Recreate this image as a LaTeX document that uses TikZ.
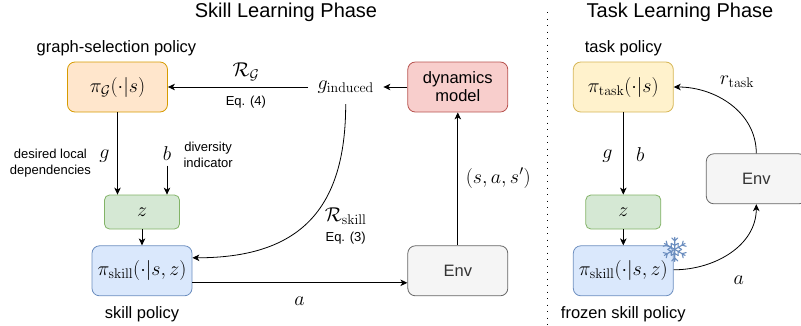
\documentclass[tikz,border=0pt]{standalone}
\usepackage{fix-cm}
\usepackage{amsmath,amssymb,amsfonts}
\usepackage[no-math]{fontspec}
\setmainfont{Liberation Sans}
\usetikzlibrary{arrows.meta,positioning,calc}
\definecolor{orangefill}{HTML}{FFE6CC}
\definecolor{orangeline}{HTML}{D79B00}
\definecolor{yellowfill}{HTML}{FFF2CC}
\definecolor{yellowline}{HTML}{D6B656}
\definecolor{greenfill}{HTML}{D5E8D4}
\definecolor{greenline}{HTML}{82B366}
\definecolor{bluefill}{HTML}{DAE8FC}
\definecolor{blueline}{HTML}{6C8EBF}
\definecolor{redfill}{HTML}{F8CECC}
\definecolor{redline}{HTML}{B85450}
\definecolor{greyfill}{HTML}{F5F5F5}
\definecolor{greyline}{HTML}{666666}
\tikzset{
	phasebox/.style={rectangle, rounded corners=7.5pt, line width=0.8pt, minimum width=100pt,
		minimum height=50pt, align=center, inner sep=0pt, font=\fontsize{20}{24}\selectfont},
	latentbox/.style={phasebox, rounded corners=5pt, minimum width=75pt, minimum height=34pt},
	textbox/.style={phasebox, font=\fontsize{16.5}{19}\selectfont},
	phasetitle/.style={inner sep=0pt, font=\fontsize{20}{24}\selectfont},
	caption/.style={inner sep=0pt, font=\fontsize{16.5}{19}\selectfont},
	note/.style={inner sep=0pt, align=center, font=\fontsize{13}{16.5}\selectfont},
	mathlabel/.style={inner sep=0pt, font=\fontsize{20}{24}\selectfont},
	flowarr/.style={-{Stealth[length=7pt,width=6.5pt,inset=2pt]}, line width=0.8pt}
}
\begin{document}
\begin{tikzpicture}[x=1pt,y=1pt]
	\useasboundingbox (0,0) rectangle (801,-325);
	% skill learning side
	\node[phasebox, fill=orangefill, draw=orangeline] (gpol) at (117.5,-87) {$\pi_{\mathcal{G}}(\cdot|s)$};
	\node[textbox, right=239.5pt of gpol, fill=redfill, draw=redline] (dyn) {dynamics\\[-1pt]model};
	\node[textbox, below=133pt of dyn, fill=greyfill, draw=greyline, text=black!80] (env) {Env};
	\node[phasebox, below=133pt of gpol, xshift=24.5pt, fill=bluefill, draw=blueline] (skill) {$\pi_{\mathrm{skill}}(\cdot|s,z)$};
	\node[latentbox, above=16pt of skill, fill=greenfill, draw=greenline] (z) {$z$};
	\node[mathlabel, left=24pt of dyn, minimum width=75pt, minimum height=34pt] (ginduced) {$g_{\mathrm{induced}}$};
	% task learning side
	\node[phasebox, right=405pt of gpol, fill=yellowfill, draw=yellowline] (task) {$\pi_{\mathrm{task}}(\cdot|s)$};
	\node[phasebox, below=133pt of task, fill=bluefill, draw=blueline] (frozen) {$\pi_{\mathrm{skill}}(\cdot|s,z)$};
	\node[latentbox, above=16pt of frozen, fill=greenfill, draw=greenline] (ztask) {$z$};
	\node[textbox, below=41pt of task, xshift=133pt, fill=greyfill, draw=greyline, text=black!80] (envtask) {Env};
	% titles and captions
	\node[phasetitle] (skilltitle) at (286,-12) {Skill Learning Phase};
	\node[phasetitle] (tasktitle) at (680,-12) {Task Learning Phase};
	\node[caption, above=5pt of gpol, xshift=-1pt] (gcap) {graph-selection policy};
	\node[caption, below=10pt of skill] (skillcap) {skill policy};
	\node[caption, above=5pt of task] (taskcap) {task policy};
	\node[caption, below=10pt of frozen] (frozencap) {frozen skill policy};
	% labels
	\node[mathlabel, above=6pt of gpol.east, xshift=78pt] (rg) {$\mathcal{R}_{\mathcal{G}}$};
	\node[note, below=9pt of gpol.east, xshift=78pt] (eqg) {Eq. (4)};
	\node[note, left=13pt of z.north west, yshift=31.5pt] (desired) {desired local\\dependencies};
	\node[mathlabel, below=37pt of gpol.south, xshift=-13pt] (glabel) {$g$};
	\coordinate[above=29pt of z.north, xshift=25pt] (bstart);
	\node[mathlabel, above=5pt of bstart] (blabel) {$b$};
	\node[note, right=12pt of blabel, yshift=-1.5pt] (diverse) {diversity\\indicator};
	\node[mathlabel, below=103pt of ginduced] (rskill) {$\mathcal{R}_{\mathrm{skill}}$};
	\node[note, below=8pt of rskill] (eqskill) {Eq. (3)};
	\node[mathlabel, below=26pt of skill.east, xshift=107pt] (alabel) {$a$};
	\node[mathlabel, above=57pt of env.north, xshift=40.5pt] (tuple) {$(s,a,s')$};
	\node[mathlabel, below=37pt of task.south, xshift=-16pt] (gtask) {$g$};
	\node[mathlabel, below=35pt of task.south, xshift=17pt] (btask) {$b$};
	\node[mathlabel, right=46pt of task.east, yshift=5pt] (rtask) {$r_{\mathrm{task}}$};
	\node[mathlabel, below=5pt of frozen.east, xshift=65pt] (atask) {$a$};
	% frozen mark
	\coordinate (flake) at ($(frozen.north east)+(1,-4)$);
	\foreach \ang in {0,60,...,300} {
		\draw[blueline, line width=1.1pt, line cap=round, rotate around={\ang:(flake)}]
			(flake) -- ++(0,12)
			($(flake)+(0,8.5)$) -- ++(-3,3) ($(flake)+(0,8.5)$) -- ++(3,3)
			($(flake)+(0,4)$) -- ++(-3.4,2) ($(flake)+(0,4)$) -- ++(3.4,2);
	}
	% connectors
	\draw[flowarr] (gpol.south)--(gpol.south |- z.north);
	\draw[flowarr] (bstart)--(bstart |- z.north);
	\draw[flowarr] (z)--(skill);
	\draw[flowarr] (ginduced)--(gpol);
	\draw[flowarr] (dyn)--(ginduced);
	\draw[flowarr] (ginduced.south) to[out=-90, in=0, looseness=1.25] ([yshift=13pt]skill.east);
	\draw[flowarr] ([yshift=-12pt]skill.east)--([yshift=-12pt]env.west);
	\draw[flowarr] (env)--(dyn);
	\draw[flowarr] (task)--(ztask);
	\draw[flowarr] (ztask)--(frozen);
	\draw[flowarr] (envtask.north) to[out=90, in=0] (task.east);
	\draw[flowarr] ([yshift=1pt]frozen.east) to[out=0, in=-90] (envtask.south);
	% phase divider
	\coordinate (divtop) at (547.5,-12);
	\coordinate (divbot) at (547.5,-325);
	\draw[line width=1pt, dash pattern=on 1pt off 5.5pt] (divtop)--(divbot);
\end{tikzpicture}
\end{document}
